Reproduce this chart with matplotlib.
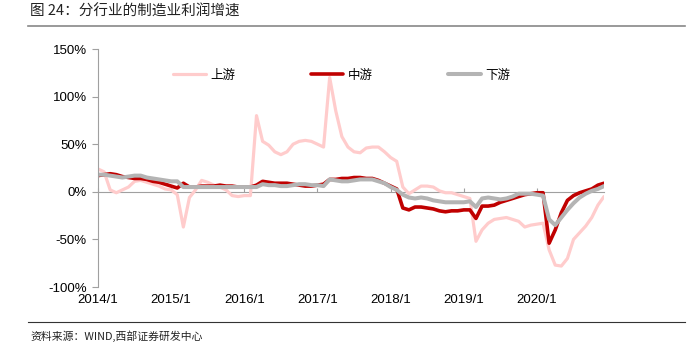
import matplotlib
matplotlib.use("Agg")
import matplotlib.pyplot as plt
from matplotlib.lines import Line2D
import numpy as np

plt.rcParams['font.family'] = ['Liberation Sans', 'Noto Sans CJK SC', 'DejaVu Sans']

# 月度数据，2014/1 - 2020/12，单位 %
years = list(range(2014, 2021))
tick_labels = [f"{y}/1" for y in years]

upstream = [24, 21, 2, -1, 2, 5, 11, 12, 10, 8, 6, 3,
            2, -3, -37, -6, 2, 12, 10, 7, 5, 2, -4, -5,
            -4, -4, 80, 53, 49, 42, 39, 42, 50, 53, 54, 53,
            50, 47, 120, 85, 58, 47, 42, 41, 46, 47, 47, 42,
            36, 32, 5, -2, 2, 6, 6, 5, 1, -1, -1, -3,
            -5, -7, -52, -40, -33, -29, -28, -27, -29, -31, -37, -35,
            -34, -33, -61, -77, -78, -70, -50, -43, -36, -27, -14, -5]

midstream = [17, 18, 19, 18, 16, 15, 14, 14, 13, 11, 10, 8,
             6, 4, 9, 5, 5, 6, 6, 6, 7, 6, 6, 5,
             5, 5, 7, 11, 10, 9, 9, 9, 8, 7, 6, 6,
             7, 8, 13, 13, 14, 14, 15, 15, 14, 14, 12, 9,
             6, 3, -17, -19, -16, -16, -17, -18, -20, -21, -20, -20,
             -19, -19, -28, -15, -15, -14, -11, -9, -7, -5, -3, -2,
             -1, -1, -54, -40, -22, -9, -4, -1, 1, 3, 7, 9]

downstream = [18, 18, 17, 16, 15, 16, 17, 17, 15, 14, 13, 12,
              11, 11, 5, 5, 5, 5, 5, 5, 5, 5, 5, 5,
              5, 5, 5, 8, 7, 7, 6, 6, 7, 8, 8, 7,
              7, 6, 13, 12, 11, 11, 12, 13, 13, 13, 11, 9,
              5, 2, -3, -6, -7, -6, -7, -9, -10, -11, -11, -11,
              -11, -10, -16, -7, -6, -7, -8, -7, -5, -2, -2, -2,
              -3, -4, -29, -35, -27, -19, -12, -6, -2, 1, 3, 6]

t = 2014 + np.arange(len(upstream)) / 12.0

fig = plt.figure(figsize=(6.98, 3.51), dpi=100)
ax = fig.add_axes([98 / 698, 1 - 287 / 351, (604 - 98) / 698, (287 - 49) / 351])

ax.plot(t, upstream, color='#FFCCCC', lw=2.3, label='上游', solid_capstyle='round')
ax.plot(t, midstream, color='#C00000', lw=2.6, label='中游', solid_capstyle='round')
ax.plot(t, downstream, color='#B4B4B4', lw=2.9, label='下游', solid_capstyle='round')

ax.set_xlim(2014, t[-1])
ax.set_ylim(-100, 150)
ax.set_yticks([-100, -50, 0, 50, 100, 150])
ax.set_yticklabels([f"{v}%" for v in [-100, -50, 0, 50, 100, 150]])
ax.set_xticks(years)
ax.set_xticklabels(tick_labels)

for s in ['top', 'right', 'bottom']:
    ax.spines[s].set_visible(False)
ax.spines['left'].set_color('#A0A0A0')
ax.tick_params(axis='y', direction='out', length=4, color='#A0A0A0', labelsize=9.5, pad=4)
ax.tick_params(axis='x', length=0, labelsize=9.5, pad=5)

# 零轴及年度刻度
sec = ax.secondary_xaxis(0.4)
sec.set_xticks(years)
sec.set_xticklabels([''] * len(years))
sec.spines['bottom'].set_color('#A0A0A0')
sec.tick_params(axis='x', direction='in', length=3, color='#A0A0A0')

leg = ax.legend(loc='center', bbox_to_anchor=(0.482, 0.89), ncol=3, frameon=False,
                handlelength=2.6, columnspacing=6.0, handletextpad=0.4,
                prop={'family': ['Noto Sans CJK SC'], 'size': 9})

fig.text(30 / 698, 1 - 12 / 351, '图 24：分行业的制造业利润增速', fontsize=10.5,
         family=['Noto Sans CJK SC', 'DejaVu Sans'], va='center', ha='left', color='#222222')
fig.add_artist(Line2D([28 / 698, 685 / 698], [1 - 26 / 351, 1 - 26 / 351], color='#888888', lw=1.2))
fig.add_artist(Line2D([28 / 698, 685 / 698], [1 - 322 / 351, 1 - 322 / 351], color='#333333', lw=0.8))
fig.text(30 / 698, 1 - 336 / 351, '资料来源：WIND,西部证券研发中心', fontsize=7.8,
         family=['Noto Sans CJK SC', 'DejaVu Sans'], va='center', ha='left', color='#222222')

fig.savefig('out.png', dpi=100)
